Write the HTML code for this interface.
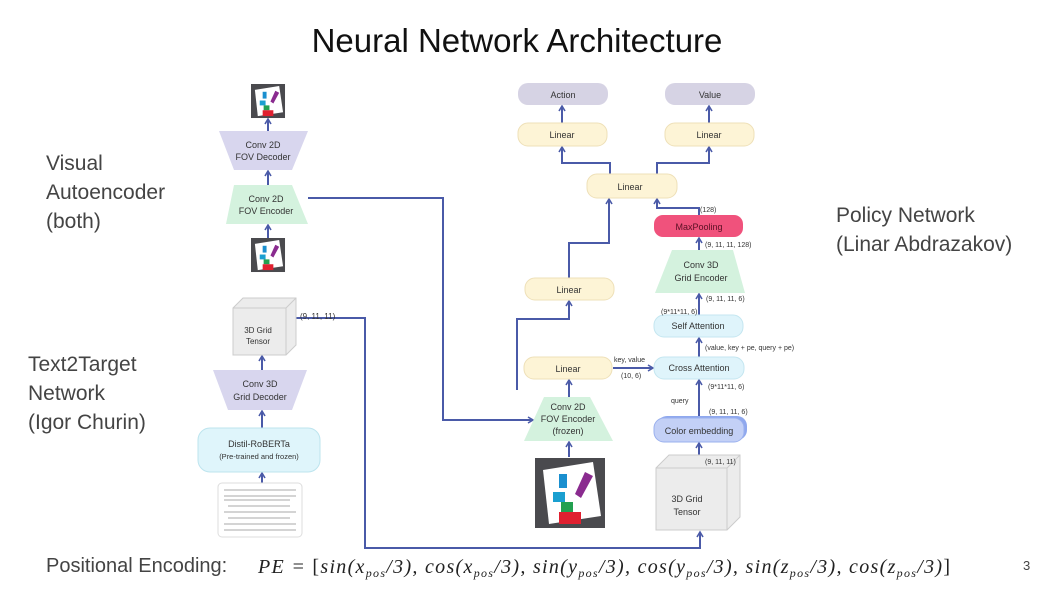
<!DOCTYPE html>
<html><head><meta charset="utf-8"><style>
body{margin:0;background:#fff;}
svg{display:block;font-family:"Liberation Sans",sans-serif;}
</style></head><body>
<svg width="1046" height="593" viewBox="0 0 1046 593" xmlns="http://www.w3.org/2000/svg">
<defs>
<marker id="a" markerWidth="8" markerHeight="8" refX="6" refY="4" orient="auto" markerUnits="userSpaceOnUse">
<path d="M1,1 L6,4 L1,7" fill="none" stroke="#4a5aa8" stroke-width="1.6"/></marker>
<g id="img">
<rect x="0" y="0" width="70" height="70" fill="#4a4a4e"/>
<polygon points="8,12 58,4 66,58 14,66" fill="#fff"/>
<rect x="24" y="16" width="8" height="14" fill="#1a8fcf"/>
<polygon points="40,36 50,14 58,18 46,40" fill="#8a2b8f"/>
<rect x="18" y="34" width="12" height="10" fill="#1a9fd0"/>
<rect x="26" y="44" width="12" height="10" fill="#22a050"/>
<rect x="24" y="54" width="22" height="12" fill="#e02030"/>
</g>
</defs>
<text x="517" y="52" font-size="33" text-anchor="middle" fill="#111">Neural Network Architecture</text>
<g font-size="21" fill="#444">
<text x="46" y="170">Visual</text><text x="46" y="199">Autoencoder</text><text x="46" y="228">(both)</text>
<text x="28" y="371">Text2Target</text><text x="28" y="400">Network</text><text x="28" y="429">(Igor Churin)</text>
<text x="836" y="222">Policy Network</text><text x="836" y="251">(Linar Abdrazakov)</text>
<text x="46" y="572" font-size="20">Positional Encoding:</text>
</g>
<text x="258" y="573" font-size="20" font-family="Liberation Serif" font-style="italic" fill="#222" textLength="692" lengthAdjust="spacing">PE = <tspan font-style="normal">[</tspan>sin(x<tspan font-size="12" dy="4">pos</tspan><tspan dy="-4">/3), cos(x</tspan><tspan font-size="12" dy="4">pos</tspan><tspan dy="-4">/3), sin(y</tspan><tspan font-size="12" dy="4">pos</tspan><tspan dy="-4">/3), cos(y</tspan><tspan font-size="12" dy="4">pos</tspan><tspan dy="-4">/3), sin(z</tspan><tspan font-size="12" dy="4">pos</tspan><tspan dy="-4">/3), cos(z</tspan><tspan font-size="12" dy="4">pos</tspan><tspan dy="-4">/3)</tspan><tspan font-style="normal">]</tspan></text>
<text x="1023" y="570" font-size="13" fill="#444">3</text>

<g fill="none" stroke="#4a5aa8" stroke-width="2">
<path d="M268,131 V119" marker-end="url(#a)"/>
<path d="M268,185 V171" marker-end="url(#a)"/>
<path d="M268,240 V225" marker-end="url(#a)"/>
<path d="M308,198 H443 V420 H533" marker-end="url(#a)"/>
<path d="M296,318 H365 V548 H700 V532" marker-end="url(#a)"/>
<path d="M262,370 V356" marker-end="url(#a)"/>
<path d="M262,428 V411" marker-end="url(#a)"/>
<path d="M262,483 V473" marker-end="url(#a)"/>
<path d="M569,457 V442" marker-end="url(#a)"/>
<path d="M569,397 V380" marker-end="url(#a)"/>
<path d="M517,390 V319 H569 V301" marker-end="url(#a)"/>
<path d="M569,278 V243 H609 V199" marker-end="url(#a)"/>
<path d="M699,215 V208 H657 V199" marker-end="url(#a)"/>
<path d="M610,174 V163 H562 V147" marker-end="url(#a)"/>
<path d="M657,174 V163 H709 V147" marker-end="url(#a)"/>
<path d="M562,123 V106" marker-end="url(#a)"/>
<path d="M709,123 V106" marker-end="url(#a)"/>
<path d="M699,250 V238" marker-end="url(#a)"/>
<path d="M699,315 V294" marker-end="url(#a)"/>
<path d="M699,357 V338" marker-end="url(#a)"/>
<path d="M699,418 V380" marker-end="url(#a)"/>
<path d="M699,455 V443" marker-end="url(#a)"/>
<path d="M613,368 H653" marker-end="url(#a)"/>
</g>

<use href="#img" transform="translate(251,84) scale(0.486)"/>
<polygon points="219,131 308,131 292,170 234,170" fill="#d8d6ee"/>
<text x="263" y="148" font-size="9" text-anchor="middle" fill="#333">Conv 2D</text>
<text x="263" y="160" font-size="9" text-anchor="middle" fill="#333">FOV Decoder</text>
<polygon points="234,185 292,185 308,224 226,224" fill="#d4f2de"/>
<text x="266" y="202" font-size="9" text-anchor="middle" fill="#333">Conv 2D</text>
<text x="266" y="214" font-size="9" text-anchor="middle" fill="#333">FOV Encoder</text>
<use href="#img" transform="translate(251,238) scale(0.486)"/>
<polygon points="233,308 243,298 296,298 296,345 286,355 233,355" fill="#ececec" stroke="#ccc"/>
<path d="M233,308 H286 V355 M286,308 L296,298" fill="none" stroke="#ccc"/>
<text x="258" y="333" font-size="8" text-anchor="middle" fill="#333">3D Grid</text>
<text x="258" y="344" font-size="8" text-anchor="middle" fill="#333">Tensor</text>
<text x="300" y="319" font-size="8" fill="#333">(9, 11, 11)</text>
<polygon points="213,370 307,370 292,410 228,410" fill="#d8d6ee"/>
<text x="260" y="387" font-size="9" text-anchor="middle" fill="#333">Conv 3D</text>
<text x="260" y="400" font-size="9" text-anchor="middle" fill="#333">Grid Decoder</text>
<rect x="198" y="428" width="122" height="44" rx="12" fill="#dff5fb" stroke="#bde4ee"/>
<text x="259" y="447" font-size="9" text-anchor="middle" fill="#333">Distil-RoBERTa</text>
<text x="259" y="459" font-size="7.5" text-anchor="middle" fill="#333">(Pre-trained and frozen)</text>
<rect x="218" y="483" width="84" height="54" rx="4" fill="#fff" stroke="#ddd"/>
<g stroke="#aaa" stroke-width="1">
<path d="M224,490 H296 M224,496 H296 M224,500 H290 M228,506 H290 M224,512 H296 M228,518 H290 M224,524 H296 M224,530 H296"/>
</g>

<rect x="518" y="83" width="90" height="22" rx="10" fill="#d6d3e4"/>
<text x="563" y="98" font-size="9" text-anchor="middle" fill="#333">Action</text>
<rect x="665" y="83" width="90" height="22" rx="10" fill="#d6d3e4"/>
<text x="710" y="98" font-size="9" text-anchor="middle" fill="#333">Value</text>
<g fill="#fdf4d6" stroke="#eee0b8">
<rect x="518" y="123" width="89" height="23" rx="10"/>
<rect x="665" y="123" width="89" height="23" rx="10"/>
<rect x="587" y="174" width="90" height="24" rx="10"/>
<rect x="525" y="278" width="89" height="22" rx="10"/>
<rect x="524" y="357" width="88" height="22" rx="10"/>
</g>
<g font-size="9" text-anchor="middle" fill="#333">
<text x="562" y="138">Linear</text><text x="709" y="138">Linear</text>
<text x="630" y="190">Linear</text><text x="569" y="293">Linear</text><text x="568" y="372">Linear</text>
</g>
<rect x="654" y="215" width="89" height="22" rx="9" fill="#f0527c"/>
<text x="699" y="230" font-size="9" text-anchor="middle" fill="#5a1024">MaxPooling</text>
<polygon points="672,250 733,250 745,293 655,293" fill="#d4f2de"/>
<text x="701" y="268" font-size="9" text-anchor="middle" fill="#333">Conv 3D</text>
<text x="701" y="281" font-size="9" text-anchor="middle" fill="#333">Grid Encoder</text>
<rect x="654" y="315" width="89" height="22" rx="10" fill="#dff4fb" stroke="#c4e6f0"/>
<text x="698" y="329" font-size="9" text-anchor="middle" fill="#333">Self Attention</text>
<rect x="654" y="357" width="90" height="22" rx="10" fill="#dff4fb" stroke="#c4e6f0"/>
<text x="699" y="371" font-size="9" text-anchor="middle" fill="#333">Cross Attention</text>
<rect x="657" y="416" width="90" height="24" rx="10" fill="#8fa8ee"/>
<rect x="654" y="418" width="90" height="24" rx="10" fill="#c3d0f6" stroke="#9ab0ee"/>
<text x="699" y="434" font-size="9" text-anchor="middle" fill="#333">Color embedding</text>
<polygon points="656,468 669,455 740,455 740,517 727,530 656,530" fill="#ececec" stroke="#ccc"/>
<path d="M656,468 H727 V530 M727,468 L740,455" fill="none" stroke="#ccc"/>
<text x="687" y="502" font-size="9" text-anchor="middle" fill="#333">3D Grid</text>
<text x="687" y="515" font-size="9" text-anchor="middle" fill="#333">Tensor</text>
<polygon points="544,397 590,397 613,441 524,441" fill="#d4f2de"/>
<text x="568" y="410" font-size="9" text-anchor="middle" fill="#333">Conv 2D</text>
<text x="568" y="422" font-size="9" text-anchor="middle" fill="#333">FOV Encoder</text>
<text x="568" y="434" font-size="9" text-anchor="middle" fill="#333">(frozen)</text>
<use href="#img" transform="translate(535,458)"/>
<g font-size="7" fill="#333">
<text x="700" y="212">(128)</text>
<text x="705" y="247">(9, 11, 11, 128)</text>
<text x="706" y="301">(9, 11, 11, 6)</text>
<text x="661" y="314">(9*11*11, 6)</text>
<text x="705" y="350">(value, key + pe, query + pe)</text>
<text x="614" y="362">key, value</text>
<text x="621" y="378">(10, 6)</text>
<text x="708" y="389">(9*11*11, 6)</text>
<text x="671" y="403">query</text>
<text x="709" y="414">(9, 11, 11, 6)</text>
<text x="705" y="464">(9, 11, 11)</text>
</g>
</svg>
</body></html>
